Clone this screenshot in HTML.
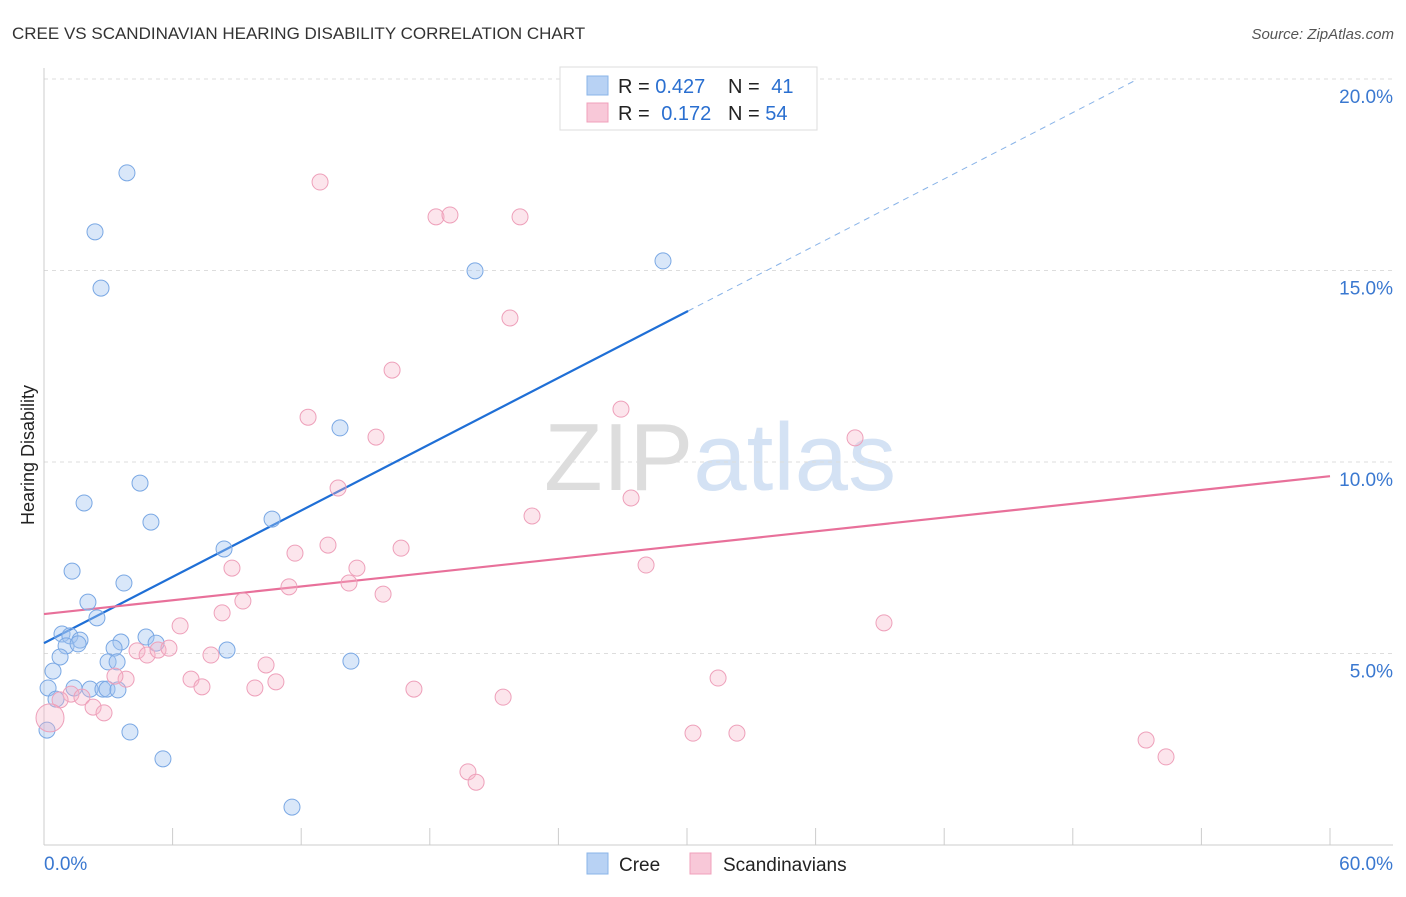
<!DOCTYPE html>
<html><head><meta charset="utf-8"><style>
body{margin:0;background:#fff;font-family:"Liberation Sans",sans-serif}
svg text{font-family:"Liberation Sans",sans-serif}
</style></head><body>
<svg id="chart" width="1406" height="892" viewBox="0 0 1406 892">
<text x="12" y="39" font-size="17" fill="#333">CREE VS SCANDINAVIAN HEARING DISABILITY CORRELATION CHART</text>
<text x="1394" y="39" font-size="15" fill="#555" font-style="italic" text-anchor="end">Source: ZipAtlas.com</text>
<text x="720" y="490" font-size="96" fill="#ddd" text-anchor="middle" font-family="Liberation Serif">ZIP<tspan fill="#d4e2f4" font-family="Liberation Sans">atlas</tspan></text>
<g id="grid"></g><g id="axes"></g><g id="lines"></g><g id="pts"></g>
<text transform="translate(34,455) rotate(-90)" font-size="18" fill="#222" text-anchor="middle">Hearing Disability</text>
<g>
<rect x="560" y="67" width="257" height="63" fill="#fff" stroke="#ddd"/>
<rect x="587" y="76" width="21" height="19" fill="#b8d2f4" stroke="#8ab4e8"/>
<rect x="587" y="103" width="21" height="19" fill="#f8c8d8" stroke="#f0a0bb"/>
<text x="618" y="93" font-size="20" fill="#222">R = <tspan fill="#2a6fd0">0.427</tspan></text>
<text x="728" y="93" font-size="20" fill="#222">N = <tspan fill="#2a6fd0" dx="6">41</tspan></text>
<text x="618" y="120" font-size="20" fill="#222">R = <tspan fill="#2a6fd0" dx="6">0.172</tspan></text>
<text x="728" y="120" font-size="20" fill="#222">N = <tspan fill="#2a6fd0">54</tspan></text>
</g>
<g>
<rect x="587" y="853" width="21" height="21" fill="#b8d2f4" stroke="#8ab4e8"/>
<text x="619" y="871" font-size="19" fill="#222">Cree</text>
<rect x="690" y="853" width="21" height="21" fill="#f8c8d8" stroke="#f0a0bb"/>
<text x="723" y="871" font-size="19" fill="#222">Scandinavians</text>
</g>
</svg>
<script>
const creeX=[3.87,2.38,2.66,20.11,28.88,13.81,4.48,1.87,4.99,10.64,8.40,1.31,3.73,2.05,2.47,0.84,1.21,1.68,1.03,1.59,3.59,4.76,5.23,3.27,0.75,2.99,3.41,8.54,14.32,0.42,0.19,1.40,2.15,2.75,2.94,3.45,0.56,0.14,4.01,5.55,11.57];
const creeY=[17.55,16.01,14.54,14.99,15.25,10.89,9.45,8.93,8.43,8.51,7.73,7.15,6.84,6.34,5.93,5.51,5.46,5.35,5.20,5.25,5.30,5.43,5.27,5.14,4.91,4.78,4.78,5.09,4.80,4.54,4.10,4.10,4.07,4.07,4.07,4.05,3.81,3.00,2.95,2.25,0.99];
const scX=[33.41,12.88,18.29,18.94,22.21,21.74,16.24,12.32,26.92,15.49,37.84,13.72,27.39,22.77,13.25,16.66,11.71,8.77,14.60,28.09,14.23,11.43,15.82,9.28,8.31,6.35,39.19,4.34,4.81,5.32,5.83,7.79,10.36,6.86,3.83,3.31,7.37,10.82,9.84,17.26,21.42,31.45,1.26,1.77,0.75,2.29,2.80,0.28,30.28,32.33,51.42,52.35,19.78,20.16];
const scY=[19.97,17.31,16.40,16.45,16.40,13.76,12.40,11.17,11.38,10.65,10.63,9.32,9.06,8.59,7.83,7.75,7.62,7.23,7.23,7.31,6.84,6.74,6.55,6.37,6.06,5.72,5.80,5.07,4.96,5.09,5.14,4.96,4.70,4.33,4.33,4.41,4.13,4.26,4.10,4.07,3.86,4.36,3.94,3.86,3.79,3.60,3.45,3.32,2.92,2.92,2.74,2.30,1.91,1.64];
const yTicks=[5,10,15,20];
const yTickLabels=["5.0%","10.0%","15.0%","20.0%"];
const xTickCount=10;
const creeLine=[5.27,0.2886,30.05,50.9];
const scLine=[6.03,0.06,60];
const NS="http://www.w3.org/2000/svg";
const X=v=>44+v*(1286/60), Y=v=>845-v*38.3;
function mk(p,t,a){const e=document.createElementNS(NS,t);for(const k in a)e.setAttribute(k,a[k]);document.getElementById(p).appendChild(e);return e;}
yTicks.forEach((t,i)=>{
 const g=mk('grid','line',{x1:44,x2:1393,y1:Y(t),y2:Y(t),stroke:'#ddd','stroke-dasharray':'4,4'});
 
 
 const l=mk('axes','text',{x:1393,y:Y(t)+24,'font-size':19,fill:'#3a78d0','text-anchor':'end'});l.textContent=yTickLabels[i];
 
 
});
const tg=mk('grid','line',{x1:44,x2:1393,y1:Y(20),y2:Y(20),stroke:'#ddd','stroke-dasharray':'4,4'});
mk('axes','line',{x1:44,x2:44,y1:68,y2:845,stroke:'#ccc'});
mk('axes','line',{x1:44,x2:1393,y1:845,y2:845,stroke:'#ccc'});
for(let i=0;i<=xTickCount;i++){const e=mk('axes','line',{x1:X(i*6),x2:X(i*6),y1:828,y2:845,stroke:'#ccc'});
 
 }
let t0=mk('axes','text',{x:44,y:870,'font-size':19,fill:'#3a78d0'});t0.textContent="0.0%";


let t1=mk('axes','text',{x:1393,y:870,'font-size':19,fill:'#3a78d0','text-anchor':'end'});t1.textContent="60.0%";


creeX.forEach((x,i)=>{const c=mk('pts','circle',{cx:X(x),cy:Y(creeY[i]),r:8,fill:'rgba(160,196,240,0.4)',stroke:'#7aa8e4','stroke-width':1});
 
 });
scX.forEach((x,i)=>{const c=mk('pts','circle',{cx:X(x),cy:Y(scY[i]),r:i==47?14:8,fill:'rgba(246,180,200,0.35)',stroke:'#eea0ba','stroke-width':1});
 
 });
const [b0,b1,bs,be]=creeLine;
let l1=mk('lines','line',{x1:X(0),y1:Y(b0),x2:X(bs),y2:Y(b0+b1*bs),stroke:'#1f6fd6','stroke-width':2.2});


let l2=mk('lines','line',{x1:X(bs),y1:Y(b0+b1*bs),x2:X(be),y2:Y(b0+b1*be),stroke:'#8ab4e8','stroke-width':1,'stroke-dasharray':'6,5'});


const [s0,s1,se]=scLine;
let l3=mk('lines','line',{x1:X(0),y1:Y(s0),x2:X(se),y2:Y(s0+s1*se),stroke:'#e8709a','stroke-width':2.2});


</script>
</body></html>
